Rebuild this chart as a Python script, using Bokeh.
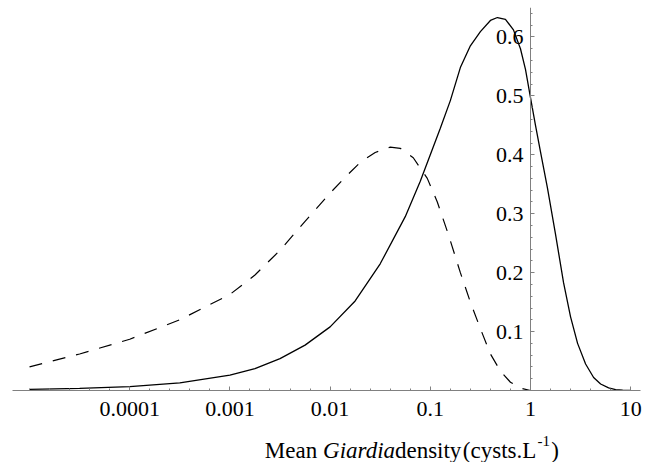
import numpy as np
from bokeh.plotting import figure
from bokeh.layouts import column
from bokeh.models import FixedTicker, Range1d
from bokeh.core.properties import value
from bokeh.embed import file_html
from bokeh.resources import INLINE

# Mean Giardia density, as log10(cysts per litre), with the probability density of each curve
solid_log_density = [-5.00, -4.50, -4.00, -3.50, -3.00, -2.75, -2.50, -2.25, -2.00, -1.75,
                     -1.50, -1.25, -1.10, -1.00, -0.90, -0.80, -0.70, -0.60, -0.50, -0.40,
                     -0.33, -0.25, -0.17, -0.10, -0.05, 0.00, 0.05, 0.10, 0.17, 0.25,
                     0.33, 0.40, 0.47, 0.55, 0.63, 0.70, 0.78, 0.85, 0.92, 1.00]
solid_prob = [0.002, 0.0035, 0.0065, 0.013, 0.026, 0.037, 0.054, 0.077, 0.108, 0.152,
              0.215, 0.295, 0.355, 0.400, 0.445, 0.492, 0.548, 0.585, 0.609, 0.628,
              0.633, 0.630, 0.612, 0.580, 0.545, 0.497, 0.450, 0.405, 0.343, 0.265,
              0.183, 0.125, 0.080, 0.045, 0.022, 0.011, 0.0045, 0.0015, 0.0004, 0.0]

dashed_log_density = [-5.00, -4.50, -4.00, -3.50, -3.00, -2.75, -2.50, -2.25, -2.00, -1.85,
                      -1.70, -1.55, -1.40, -1.30, -1.17, -1.03, -0.93, -0.82, -0.70, -0.60,
                      -0.50, -0.40, -0.30, -0.20, -0.10, 0.00, 1.00]
dashed_prob = [0.040, 0.062, 0.087, 0.120, 0.163, 0.196, 0.238, 0.287, 0.335, 0.362,
               0.387, 0.404, 0.413, 0.411, 0.395, 0.360, 0.320, 0.265, 0.200, 0.150,
               0.105, 0.062, 0.033, 0.014, 0.004, 0.0, 0.0]

x_tick_values = [-4, -3, -2, -1, 0, 1]
x_tick_labels = ["0.0001", "0.001", "0.01", "0.1", "1", "10"]
y_tick_values = [0.1, 0.2, 0.3, 0.4, 0.5, 0.6]
y_tick_labels = ["0.1", "0.2", "0.3", "0.4", "0.5", "0.6"]

FONT = "Liberation Serif"
AXIS_GREY = "#808080"

p = figure(width=647, height=430,
           x_range=Range1d(-5.17, 1.098), y_range=Range1d(0, 0.65),
           output_backend="svg", toolbar_location=None,
           min_border_left=12, min_border_right=7,
           min_border_top=7, min_border_bottom=40,
           outline_line_color=None, background_fill_color="white")
p.grid.visible = False

# horizontal axis: decades of density, four minor ticks per decade
x_minor = [round(v, 1) for v in np.arange(-5.0, 1.01, 0.2)]
p.xaxis.ticker = FixedTicker(ticks=x_tick_values, minor_ticks=x_minor)
p.xaxis.major_label_overrides = dict(zip(x_tick_values, x_tick_labels))

# vertical axis crosses the horizontal one at a density of 1
y_minor = [round(v, 2) for v in np.arange(0.02, 0.65, 0.02)]
p.yaxis.ticker = FixedTicker(ticks=y_tick_values, minor_ticks=y_minor)
p.yaxis.major_label_overrides = dict(zip(y_tick_values, y_tick_labels))
p.yaxis.fixed_location = 0

for ax in (p.xaxis, p.yaxis):
    ax.axis_line_color = AXIS_GREY
    ax.axis_line_width = 1
    ax.major_tick_line_color = AXIS_GREY
    ax.minor_tick_line_color = AXIS_GREY
    ax.major_tick_in = 4
    ax.major_tick_out = 0
    ax.minor_tick_in = 2
    ax.minor_tick_out = 0
    ax.major_label_text_font = FONT
    ax.major_label_text_font_size = "22px"
    ax.major_label_text_color = "black"
p.xaxis.major_label_standoff = 11
p.yaxis.major_label_standoff = 7

p.line(solid_log_density, solid_prob, line_color="black", line_width=1.3)
p.line(dashed_log_density, dashed_prob, line_color="black", line_width=1.2,
       line_dash="13 11")

# strip under the chart carrying the axis title; its units are pixels
t = figure(width=647, height=32, x_range=Range1d(0, 647), y_range=Range1d(0, 32),
           output_backend="svg", toolbar_location=None, min_border=0,
           outline_line_color=None, background_fill_color="white")
t.axis.visible = False
t.grid.visible = False

t.text(x=[260, 394, 464, 555], y=[12, 12, 12, 12],
       text=["Mean", "density", "(cysts.L", ")"],
       text_font=value(FONT), text_font_size="23px", text_color="black",
       text_baseline="alphabetic")
t.text(x=[320], y=[12], text=["Giardia"],
       text_font=value(FONT), text_font_style="italic", text_font_size="23px",
       text_color="black", text_baseline="alphabetic")
t.text(x=[541], y=[22], text=["-1"],
       text_font=value(FONT), text_font_size="15px", text_color="black",
       text_baseline="alphabetic")

layout = column(p, t, spacing=0)
open("out.html", "w").write(file_html(layout, INLINE))
